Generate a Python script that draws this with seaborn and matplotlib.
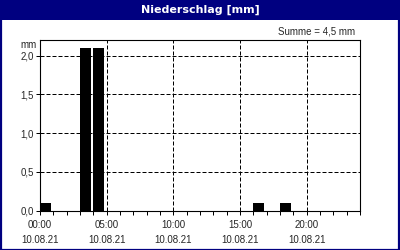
import matplotlib
matplotlib.use("Agg")
import matplotlib.pyplot as plt
import matplotlib.patches as mpatches
from matplotlib.ticker import MultipleLocator, FixedLocator
import seaborn as sns
import pandas as pd

# ---- data ----
hours = [0, 3, 4, 16, 18]                 # hour of day (bin start)
precip = [0.1, 2.1, 2.1, 0.1, 0.1]        # mm per hour
tick_hours = [0, 5, 10, 15, 20]
tick_times = ["00:00", "05:00", "10:00", "15:00", "20:00"]
tick_dates = ["10.08.21"] * 5
y_ticks = [0.0, 0.5, 1.0, 1.5, 2.0]
y_labels = ["0,0", "0,5", "1,0", "1,5", "2,0"]
title = "Niederschlag [mm]"
sum_text = "Summe = 4,5 mm"
unit = "mm"

sns.set_style("white")
plt.rcParams["font.family"] = ["Liberation Sans", "DejaVu Sans"]

navy = "#000080"
fig = plt.figure(figsize=(4, 2.5), dpi=100)
fig.patch.set_facecolor("white")

# title bar and border
fig.add_artist(mpatches.Rectangle((0, 230 / 250), 1, 20 / 250, transform=fig.transFigure,
                                  facecolor=navy, edgecolor="none", zorder=0))
fig.add_artist(mpatches.Rectangle((0.0015, 0.002), 0.997, 0.996, transform=fig.transFigure,
                                  facecolor="none", edgecolor=navy, linewidth=1.6, zorder=5))
fig.text(0.5, 1 - 10 / 250, title, color="white", fontsize=8, fontweight="bold",
         ha="center", va="center", family=["DejaVu Sans"])

ax = fig.add_axes([40 / 400, 39.3 / 250, 320 / 400, 170.7 / 250])

df = pd.DataFrame({"hour": [h + 0.4 for h in hours], "mm": precip})
sns.barplot(data=df, x="hour", y="mm", native_scale=True, orient="x",
            width=0.78, color="black", saturation=1, ax=ax, zorder=3)
for p in ax.patches:
    p.set_edgecolor("none")

ax.set_xlim(0, 24)
ax.set_ylim(0, 2.2)
ax.set_xlabel("")
ax.set_ylabel("")

ax.xaxis.set_major_locator(FixedLocator(tick_hours))
ax.set_xticklabels([f"{t}\n{d}" for t, d in zip(tick_times, tick_dates)],
                   fontsize=7, linespacing=1.55)
ax.xaxis.set_minor_locator(MultipleLocator(1))
ax.set_yticks(y_ticks)
ax.set_yticklabels(y_labels, fontsize=7)

ax.tick_params(axis="x", which="both", direction="out", length=3, width=0.72,
               color="black", pad=4, bottom=True)
ax.tick_params(axis="y", which="major", direction="out", length=3, width=0.72,
               color="black", pad=1.5, left=True)

ax.grid(True, which="major", color="black", linestyle=(0, (4, 2)), linewidth=0.72, zorder=1)
ax.set_axisbelow(True)
for s in ax.spines.values():
    s.set_visible(True)
    s.set_color("black")
    s.set_linewidth(0.8)

fig.text(37 / 400, 1 - 45 / 250, unit, fontsize=7, ha="right", va="center")
fig.text(355 / 400, 1 - 31 / 250, sum_text, fontsize=7, ha="right", va="center")

fig.savefig("out.png", dpi=100)
